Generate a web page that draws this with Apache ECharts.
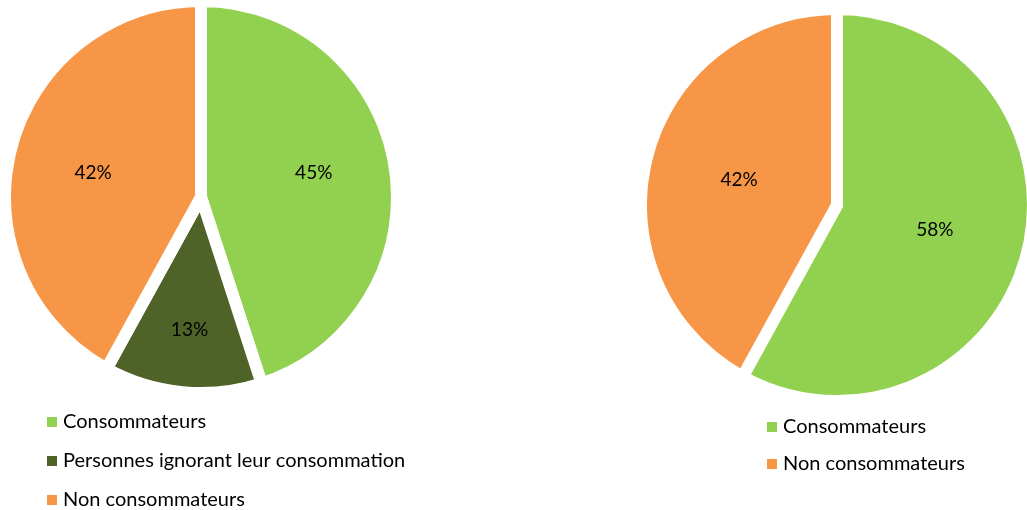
<!DOCTYPE html>
<html>
<head>
<meta charset="utf-8">
<script src="https://cdn.jsdelivr.net/npm/echarts@6/dist/echarts.min.js"></script>
<style>
    html, body { margin: 0; padding: 0; background: #fff; }
    #chart { width: 1027px; height: 510px; }
</style>
</head>
<body>
<div id="chart"></div>
<script>
// left pie
var leftNames = ['Consommateurs', 'Personnes ignorant leur consommation', 'Non consommateurs']
var leftValues = [45, 13, 42]
var leftColors = ['#92D050', '#4F6228', '#F79646']
// right pie
var rightNames = ['Consommateurs', 'Non consommateurs']
var rightValues = [58, 42]
var rightColors = ['#92D050', '#F79646']

var font = 'Lato'
// nudges for the inside labels of the left pie (Excel puts them a bit further out)
var leftLabelShift = [[13, -8], [-2, 32], [-10, 1]]

function toData(names, values, colors, shifts) {
    return names.map(function (n, i) {
        var d = { name: n, value: values[i], itemStyle: { color: colors[i] } }
        if (shifts) d.label = { offset: shifts[i] }
        return d
    })
}

function pie(center, data) {
    return {
        type: 'pie',
        center: center,
        radius: 196,
        startAngle: 90,
        clockwise: true,
        silent: true,
        animation: false,
        itemStyle: { borderColor: '#fff', borderWidth: 12 },
        label: {
            show: true,
            position: 'inside',
            formatter: '{c}%',
            color: '#000',
            fontFamily: font,
            fontSize: 19
        },
        labelLine: { show: false },
        data: data
    }
}

function legend(left, bottom, gap, names) {
    return {
        orient: 'vertical',
        left: left,
        bottom: bottom,
        padding: 0,
        itemWidth: 12,
        itemHeight: 12,
        itemGap: gap,
        icon: 'rect',
        selectedMode: false,
        textStyle: { fontFamily: font, fontSize: 20, color: '#000' },
        data: names
    }
}

var myChart = echarts.init(document.getElementById('chart'))
var option = {
    animation: false,
    legend: [
        legend(45, 0, 19, leftNames),
        legend(765, 36, 17, rightNames)
    ],
    series: [
        pie([201, 197], toData(leftNames, leftValues, leftColors, leftLabelShift)),
        pie([837, 205], toData(rightNames, rightValues, rightColors))
    ]
}
myChart.setOption(option)
</script>
</body>
</html>
